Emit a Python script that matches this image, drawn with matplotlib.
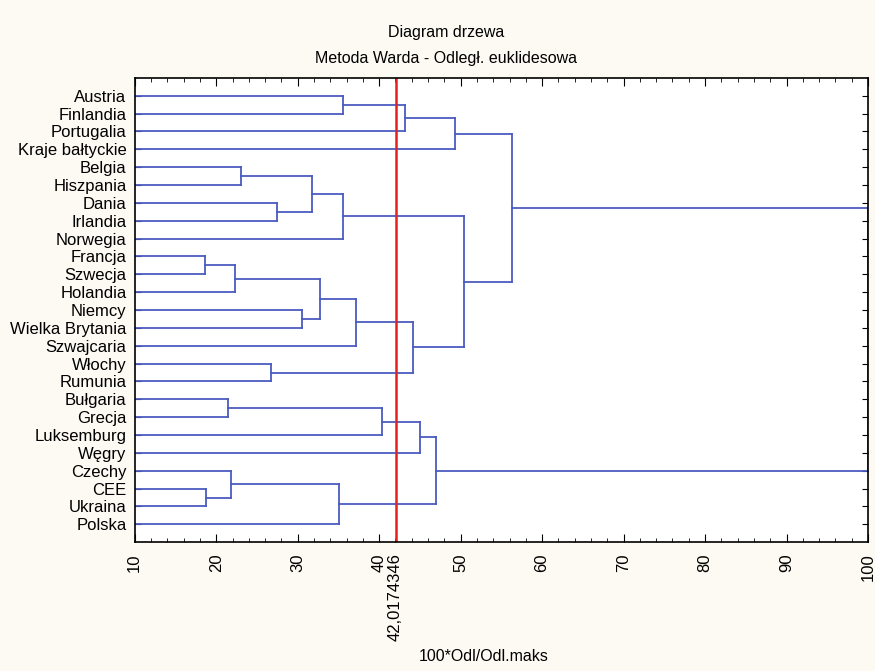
# %%
# ------------------------------------------------------------
# Dendrogram – Ward method, euclidean distance
# ------------------------------------------------------------
import matplotlib
matplotlib.use("Agg")
from matplotlib import pyplot as plt
from matplotlib.ticker import MultipleLocator
from matplotlib.transforms import blended_transform_factory

plt.rcParams["font.family"] = ["Liberation Sans", "DejaVu Sans"]

# %%
# ------------------------------------------------------------
# 1. Data
# ------------------------------------------------------------
leaves = [
    "Austria", "Finlandia", "Portugalia", "Kraje bałtyckie", "Belgia",
    "Hiszpania", "Dania", "Irlandia", "Norwegia", "Francja", "Szwecja",
    "Holandia", "Niemcy", "Wielka Brytania", "Szwajcaria", "Włochy",
    "Rumunia", "Bułgaria", "Grecja", "Luksemburg", "Węgry", "Czechy",
    "CEE", "Ukraina", "Polska",
]

# merges: (cluster a, cluster b, height); new clusters get ids 25, 26, ...
merge_a = [9, 22, 17, 21, 25, 4, 15, 6, 12, 30, 29, 28, 0, 34, 35, 27, 37, 39, 40, 43, 41, 38, 45, 47]
merge_b = [10, 23, 18, 26, 11, 5, 16, 7, 13, 32, 33, 24, 1, 8, 14, 19, 2, 31, 20, 36, 3, 42, 46, 44]
merge_h = [18.6, 18.8, 21.5, 21.8, 22.3, 23.1, 26.7, 27.5, 30.5, 31.8, 32.7, 35.1,
           35.5, 35.5, 37.2, 40.4, 43.2, 44.1, 45.0, 47.0, 49.3, 50.4, 56.3, 100.0]

cut_value = 42.0174346
x_ticks = [10, 20, 30, 40, 50, 60, 70, 80, 90, 100]

# %%
# ------------------------------------------------------------
# 2. Plot
# ------------------------------------------------------------
line_col = "#4a5cc0"

fig = plt.figure(figsize=(8.75, 6.71), dpi=100, facecolor="#fcfaf3")
ax = fig.add_axes([0.154, 0.192, 0.838, 0.692])
ax.set_facecolor("white")

pos = {i: i + 1 for i in range(len(leaves))}
height = {i: 0.0 for i in range(len(leaves))}

for k, (a, b, h) in enumerate(zip(merge_a, merge_b, merge_h)):
    new_id = len(leaves) + k
    ax.plot([height[a], h], [pos[a], pos[a]], color=line_col, lw=1.3)
    ax.plot([height[b], h], [pos[b], pos[b]], color=line_col, lw=1.3)
    ax.plot([h, h], [pos[a], pos[b]], color=line_col, lw=1.3)
    pos[new_id] = (pos[a] + pos[b]) / 2
    height[new_id] = h

ax.axvline(cut_value, color="#e8201c", lw=1.8)

ax.set_xlim(10, 100)
ax.set_ylim(len(leaves) + 1, 0)

ax.set_xticks(x_ticks)
ax.set_xticklabels([str(t) for t in x_ticks], rotation=90, fontsize=12)
ax.xaxis.set_minor_locator(MultipleLocator(2))
ax.tick_params(axis="x", which="major", direction="in", length=6, top=True, pad=8)
ax.tick_params(axis="x", which="minor", direction="in", length=3, top=True)

ax.set_yticks(range(1, len(leaves) + 1))
ax.set_yticklabels(leaves, fontsize=12)
ax.tick_params(axis="y", direction="in", length=4, right=True, pad=6)

for s in ax.spines.values():
    s.set_linewidth(1.2)

trans = blended_transform_factory(ax.transData, ax.transAxes)
ax.text(cut_value, -0.024, "42,0174346", transform=trans, rotation=90,
        ha="center", va="top", fontsize=12)

fig.text(0.51, 0.952, "Diagram drzewa", ha="center", va="center", fontsize=11.5)
fig.text(0.51, 0.913, "Metoda Warda - Odległ. euklidesowa", ha="center", va="center", fontsize=11.5)
fig.text(0.553, 0.021, "100*Odl/Odl.maks", ha="center", va="center", fontsize=11.5)

fig.savefig("out.png", dpi=100, facecolor=fig.get_facecolor())
